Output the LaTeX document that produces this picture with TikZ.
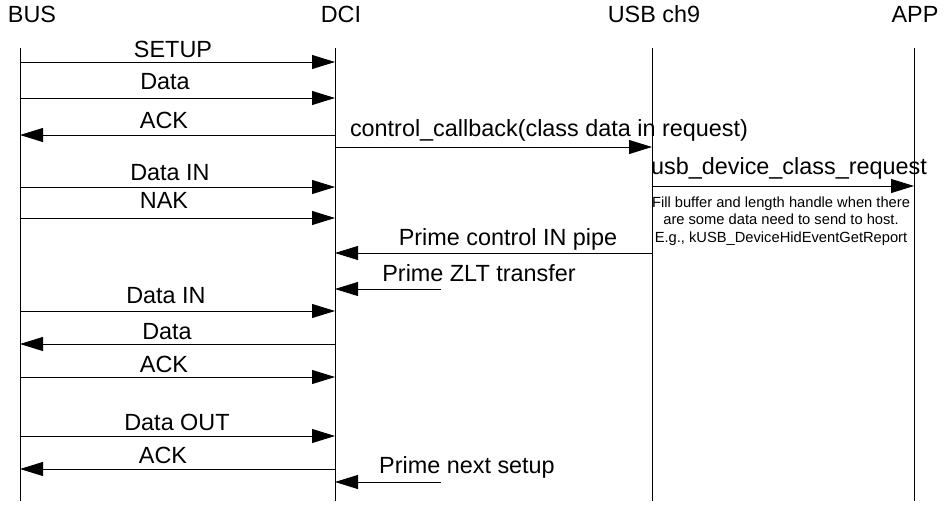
\documentclass[tikz,border=0pt]{standalone}
\usepackage{fontspec}
\setmainfont{Liberation Sans}
\usetikzlibrary{arrows.meta}

\begin{document}
\begin{tikzpicture}[x=1pt, y=-1pt,
    life/.style={line width=0.8pt},
    msg/.style={line width=0.8pt, -{Triangle[length=23pt, width=14pt]}},
    lbl/.style={anchor=base, inner sep=0pt, font=\fontsize{23.4}{27}\selectfont},
    note/.style={anchor=north, inner sep=0pt, align=center, font=\fontsize{14.7}{17.4}\selectfont}]
    \useasboundingbox (0,0) rectangle (951,506);

    % Lifelines
    \node[lbl] (bus) at (32,23) {BUS};
    \node[lbl] (dci) at (341,23) {DCI};
    \node[lbl] (ch9) at (654,23) {USB ch9};
    \node[lbl] (app) at (915,23) {APP};
    \coordinate (busTop) at (20,48);
    \coordinate (busEnd) at (20,501);
    \coordinate (dciTop) at (335,48);
    \coordinate (dciEnd) at (335,501);
    \coordinate (ch9Top) at (652,48);
    \coordinate (ch9End) at (652,501);
    \coordinate (appTop) at (914,48);
    \coordinate (appEnd) at (914,501);
    \draw[life] (busTop) -- (busEnd);
    \draw[life] (dciTop) -- (dciEnd);
    \draw[life] (ch9Top) -- (ch9End);
    \draw[life] (appTop) -- (appEnd);

    % Arrows
    \draw[msg] (busTop |- 0,62) -- (dciTop |- 0,62);
    \draw[msg] (busTop |- 0,98) -- (dciTop |- 0,98);
    \draw[msg] (dciTop |- 0,135) -- (busTop |- 0,135);
    \draw[msg] (dciTop |- 0,147) -- (ch9Top |- 0,147);
    \draw[msg] (busTop |- 0,187) -- (dciTop |- 0,187);
    \draw[msg] (ch9Top |- 0,186) -- (appTop |- 0,186);
    \draw[msg] (busTop |- 0,218) -- (dciTop |- 0,218);
    \draw[msg] (ch9Top |- 0,253) -- (dciTop |- 0,253);
    \coordinate (zltStart) at (441,289);
    \draw[msg] (zltStart) -- (dciTop |- zltStart);
    \draw[msg] (busTop |- 0,311) -- (dciTop |- 0,311);
    \draw[msg] (dciTop |- 0,344) -- (busTop |- 0,344);
    \draw[msg] (busTop |- 0,377) -- (dciTop |- 0,377);
    \draw[msg] (busTop |- 0,436) -- (dciTop |- 0,436);
    \draw[msg] (dciTop |- 0,469) -- (busTop |- 0,469);
    \coordinate (nextStart) at (441,482);
    \draw[msg] (nextStart) -- (dciTop |- nextStart);

    % Labels
    \node[lbl] (setup) at (173,57) {SETUP};
    \node[lbl] (data1) at (165,89) {Data};
    \node[lbl] (ack1) at (164,128) {ACK};
    \node[lbl] (callback) at (549,136) {control\_callback(class data in request)};
    \node[lbl] (datain1) at (170,180) {Data IN};
    \node[lbl] (request) at (789,174) {usb\_device\_class\_request};
    \node[lbl] (nak) at (164,208) {NAK};
    \node[note] (fill) at (781,196.5) {Fill buffer and length handle when there\\are some data need to send to host.\\E.g., kUSB\_DeviceHidEventGetReport};
    \node[lbl] (primein) at (508,245) {Prime control IN pipe};
    \node[lbl] (primezlt) at (479,281) {Prime ZLT transfer};
    \node[lbl] (datain2) at (166,303) {Data IN};
    \node[lbl] (data2) at (167,339) {Data};
    \node[lbl] (ack2) at (164,372) {ACK};
    \node[lbl] (dataout) at (177,430) {Data OUT};
    \node[lbl] (ack3) at (163,463) {ACK};
    \node[lbl] (primenext) at (467,473) {Prime next setup};

\end{tikzpicture}
\end{document}
